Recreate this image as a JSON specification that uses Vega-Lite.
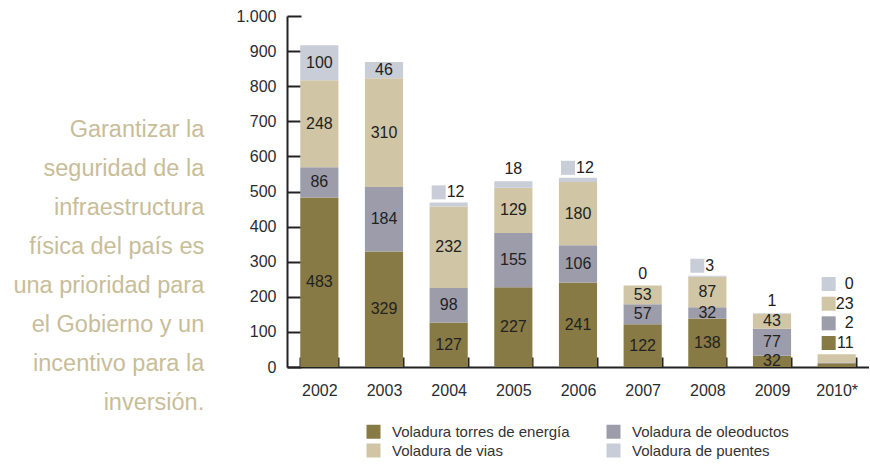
{
  "$schema": "https://vega.github.io/schema/vega-lite/v6.json",
  "width": 582,
  "height": 351,
  "padding": {"left": 13, "top": 8, "right": 0, "bottom": 0},
  "background": "white",
  "title": {
    "text": ["Garantizar la", "seguridad de la", "infraestructura", "física del país es", "una prioridad para", "el Gobierno y un", "incentivo para la", "inversión."],
    "orient": "left",
    "angle": 0,
    "align": "right",
    "baseline": "middle",
    "anchor": "middle",
    "frame": "group",
    "font": "Liberation Sans",
    "fontSize": 23.5,
    "fontWeight": "normal",
    "color": "#c8bd99",
    "lineHeight": 39,
    "offset": -159,
    "dy": -62
  },
  "data": {
    "values": [
      {"year": "2002", "tipo": "Voladura torres de energía", "value": 483},
      {"year": "2002", "tipo": "Voladura de oleoductos", "value": 86},
      {"year": "2002", "tipo": "Voladura de vias", "value": 248},
      {"year": "2002", "tipo": "Voladura de puentes", "value": 100},
      {"year": "2003", "tipo": "Voladura torres de energía", "value": 329},
      {"year": "2003", "tipo": "Voladura de oleoductos", "value": 184},
      {"year": "2003", "tipo": "Voladura de vias", "value": 310},
      {"year": "2003", "tipo": "Voladura de puentes", "value": 46},
      {"year": "2004", "tipo": "Voladura torres de energía", "value": 127},
      {"year": "2004", "tipo": "Voladura de oleoductos", "value": 98},
      {"year": "2004", "tipo": "Voladura de vias", "value": 232},
      {"year": "2004", "tipo": "Voladura de puentes", "value": 12},
      {"year": "2005", "tipo": "Voladura torres de energía", "value": 227},
      {"year": "2005", "tipo": "Voladura de oleoductos", "value": 155},
      {"year": "2005", "tipo": "Voladura de vias", "value": 129},
      {"year": "2005", "tipo": "Voladura de puentes", "value": 18},
      {"year": "2006", "tipo": "Voladura torres de energía", "value": 241},
      {"year": "2006", "tipo": "Voladura de oleoductos", "value": 106},
      {"year": "2006", "tipo": "Voladura de vias", "value": 180},
      {"year": "2006", "tipo": "Voladura de puentes", "value": 12},
      {"year": "2007", "tipo": "Voladura torres de energía", "value": 122},
      {"year": "2007", "tipo": "Voladura de oleoductos", "value": 57},
      {"year": "2007", "tipo": "Voladura de vias", "value": 53},
      {"year": "2007", "tipo": "Voladura de puentes", "value": 0},
      {"year": "2008", "tipo": "Voladura torres de energía", "value": 138},
      {"year": "2008", "tipo": "Voladura de oleoductos", "value": 32},
      {"year": "2008", "tipo": "Voladura de vias", "value": 87},
      {"year": "2008", "tipo": "Voladura de puentes", "value": 3},
      {"year": "2009", "tipo": "Voladura torres de energía", "value": 32},
      {"year": "2009", "tipo": "Voladura de oleoductos", "value": 77},
      {"year": "2009", "tipo": "Voladura de vias", "value": 43},
      {"year": "2009", "tipo": "Voladura de puentes", "value": 1},
      {"year": "2010*", "tipo": "Voladura torres de energía", "value": 11},
      {"year": "2010*", "tipo": "Voladura de oleoductos", "value": 2},
      {"year": "2010*", "tipo": "Voladura de vias", "value": 23},
      {"year": "2010*", "tipo": "Voladura de puentes", "value": 0}
    ]
  },
  "transform": [{"stack": "value", "groupby": ["year"], "as": ["v0", "v1"]}],
  "resolve": {"scale": {"y": "independent"}},
  "layer": [
    {
      "layer": [
        {
          "mark": {"type": "bar", "strokeWidth": 0},
          "encoding": {
            "x": {
              "field": "year", "type": "nominal",
              "scale": {"paddingInner": 0.41, "paddingOuter": 0.205}
            },
            "y": {
              "field": "v0", "type": "quantitative", "stack": null,
              "scale": {"domain": [0, 1000], "nice": false},
              "axis": {
                "title": null, "values": [0, 100, 200, 300, 400, 500, 600, 700, 800, 900, 1000],
                "labelExpr": "replace(format(datum.value, ','), ',', '.')", "labelOverlap": false
              }
            },
            "y2": {"field": "v1"},
            "color": {
              "field": "tipo", "type": "nominal",
              "scale": {
                "domain": ["Voladura torres de energía", "Voladura de oleoductos", "Voladura de vias", "Voladura de puentes"],
                "range": ["#877a44", "#9c9cab", "#d0c5a4", "#c8cdd8"]
              },
              "legend": {
                "orient": "none", "legendX": 79, "legendY": 408, "columns": 2, "direction": "horizontal",
                "title": null, "symbolType": "square", "symbolSize": 196, "symbolStrokeWidth": 0, "symbolOpacity": 1,
                "labelFont": "Liberation Sans", "labelFontSize": 15, "labelColor": "#333", "labelLimit": 400,
                "labelOffset": 11, "columnPadding": 36, "rowPadding": 3, "padding": 0
              }
            }
          }
        },
        {
          "transform": [
            {"filter": "datum.year !== '2010*' && !(datum.tipo === 'Voladura de puentes' && datum.value < 40)"},
            {"fold": ["v0", "v1"], "as": ["k", "pos"]},
            {"aggregate": [{"op": "mean", "field": "pos", "as": "mid"}], "groupby": ["year", "tipo", "value"]}
          ],
          "mark": {"type": "text", "font": "Liberation Sans", "fontSize": 16, "color": "#222", "baseline": "middle"},
          "encoding": {
            "x": {"field": "year", "type": "nominal"},
            "y": {
              "field": "mid", "type": "quantitative",
              "axis": {
                "title": null, "values": [0, 100, 200, 300, 400, 500, 600, 700, 800, 900, 1000],
                "labelExpr": "replace(format(datum.value, ','), ',', '.')", "labelOverlap": false
              }
            },
            "text": {"field": "value", "type": "quantitative"}
          }
        },
        {
          "transform": [
            {"filter": "datum.tipo === 'Voladura de puentes' && (datum.year === '2005' || datum.year === '2007' || datum.year === '2009')"}
          ],
          "mark": {"type": "text", "font": "Liberation Sans", "fontSize": 16, "color": "#222", "baseline": "middle", "dy": -12},
          "encoding": {
            "x": {"field": "year", "type": "nominal"},
            "y": {
              "field": "v1", "type": "quantitative",
              "axis": {
                "title": null, "values": [0, 100, 200, 300, 400, 500, 600, 700, 800, 900, 1000],
                "labelExpr": "replace(format(datum.value, ','), ',', '.')", "labelOverlap": false
              }
            },
            "text": {"field": "value", "type": "quantitative"}
          }
        },
        {
          "transform": [
            {"filter": "datum.tipo === 'Voladura de puentes' && (datum.year === '2004' || datum.year === '2006' || datum.year === '2008')"}
          ],
          "mark": {"type": "square", "size": 196, "opacity": 1, "filled": true, "xOffset": -10, "yOffset": -10, "color": "#c8cdd8"},
          "encoding": {
            "x": {"field": "year", "type": "nominal"},
            "y": {
              "field": "v1", "type": "quantitative",
              "axis": {
                "title": null, "values": [0, 100, 200, 300, 400, 500, 600, 700, 800, 900, 1000],
                "labelExpr": "replace(format(datum.value, ','), ',', '.')", "labelOverlap": false
              }
            }
          }
        },
        {
          "transform": [
            {"filter": "datum.tipo === 'Voladura de puentes' && (datum.year === '2004' || datum.year === '2006' || datum.year === '2008')"}
          ],
          "mark": {"type": "text", "font": "Liberation Sans", "fontSize": 16, "color": "#222", "baseline": "middle", "align": "left", "dx": -2, "dy": -10},
          "encoding": {
            "x": {"field": "year", "type": "nominal"},
            "y": {
              "field": "v1", "type": "quantitative",
              "axis": {
                "title": null, "values": [0, 100, 200, 300, 400, 500, 600, 700, 800, 900, 1000],
                "labelExpr": "replace(format(datum.value, ','), ',', '.')", "labelOverlap": false
              }
            },
            "text": {"field": "value", "type": "quantitative"}
          }
        }
      ]
    },
    {
      "transform": [{"filter": "datum.year === '2010*'"}],
      "encoding": {
        "x": {"field": "year", "type": "nominal"},
        "y": {
          "field": "tipo", "type": "nominal",
          "scale": {"type": "point", "domain": ["Voladura de puentes", "Voladura de vias", "Voladura de oleoductos", "Voladura torres de energía"], "range": [268, 327], "padding": 0},
          "axis": null
        }
      },
      "layer": [
        {
          "mark": {"type": "square", "size": 196, "opacity": 1, "filled": true, "xOffset": -8},
          "encoding": {"color": {"field": "tipo", "type": "nominal"}}
        },
        {
          "mark": {"type": "text", "font": "Liberation Sans", "fontSize": 16, "color": "#222", "baseline": "middle", "align": "right", "dx": 17},
          "encoding": {"text": {"field": "value", "type": "quantitative"}}
        }
      ]
    }
  ],
  "config": {
    "view": {"stroke": null},
    "axisX": {
      "title": null, "labelAngle": 0, "tickBand": "extent", "ticks": false,
      "grid": true, "gridColor": "#222", "gridWidth": 2, "gridOpacity": 1, "gridDash": [10, 341], "gridDashOffset": 10,
      "domainColor": "#222", "domainWidth": 2,
      "labelPadding": 15, "labelFont": "Liberation Sans", "labelFontSize": 16, "labelColor": "#2a2d30"
    },
    "axisY": {
      "ticks": false,
      "grid": true, "gridColor": "#222", "gridWidth": 2, "gridOpacity": 1, "gridDash": [14, 1000],
      "domainColor": "#222", "domainWidth": 2,
      "labelPadding": 11, "labelFont": "Liberation Sans", "labelFontSize": 16, "labelColor": "#2a2d30",
      "labelOverlap": false
    }
  }
}
